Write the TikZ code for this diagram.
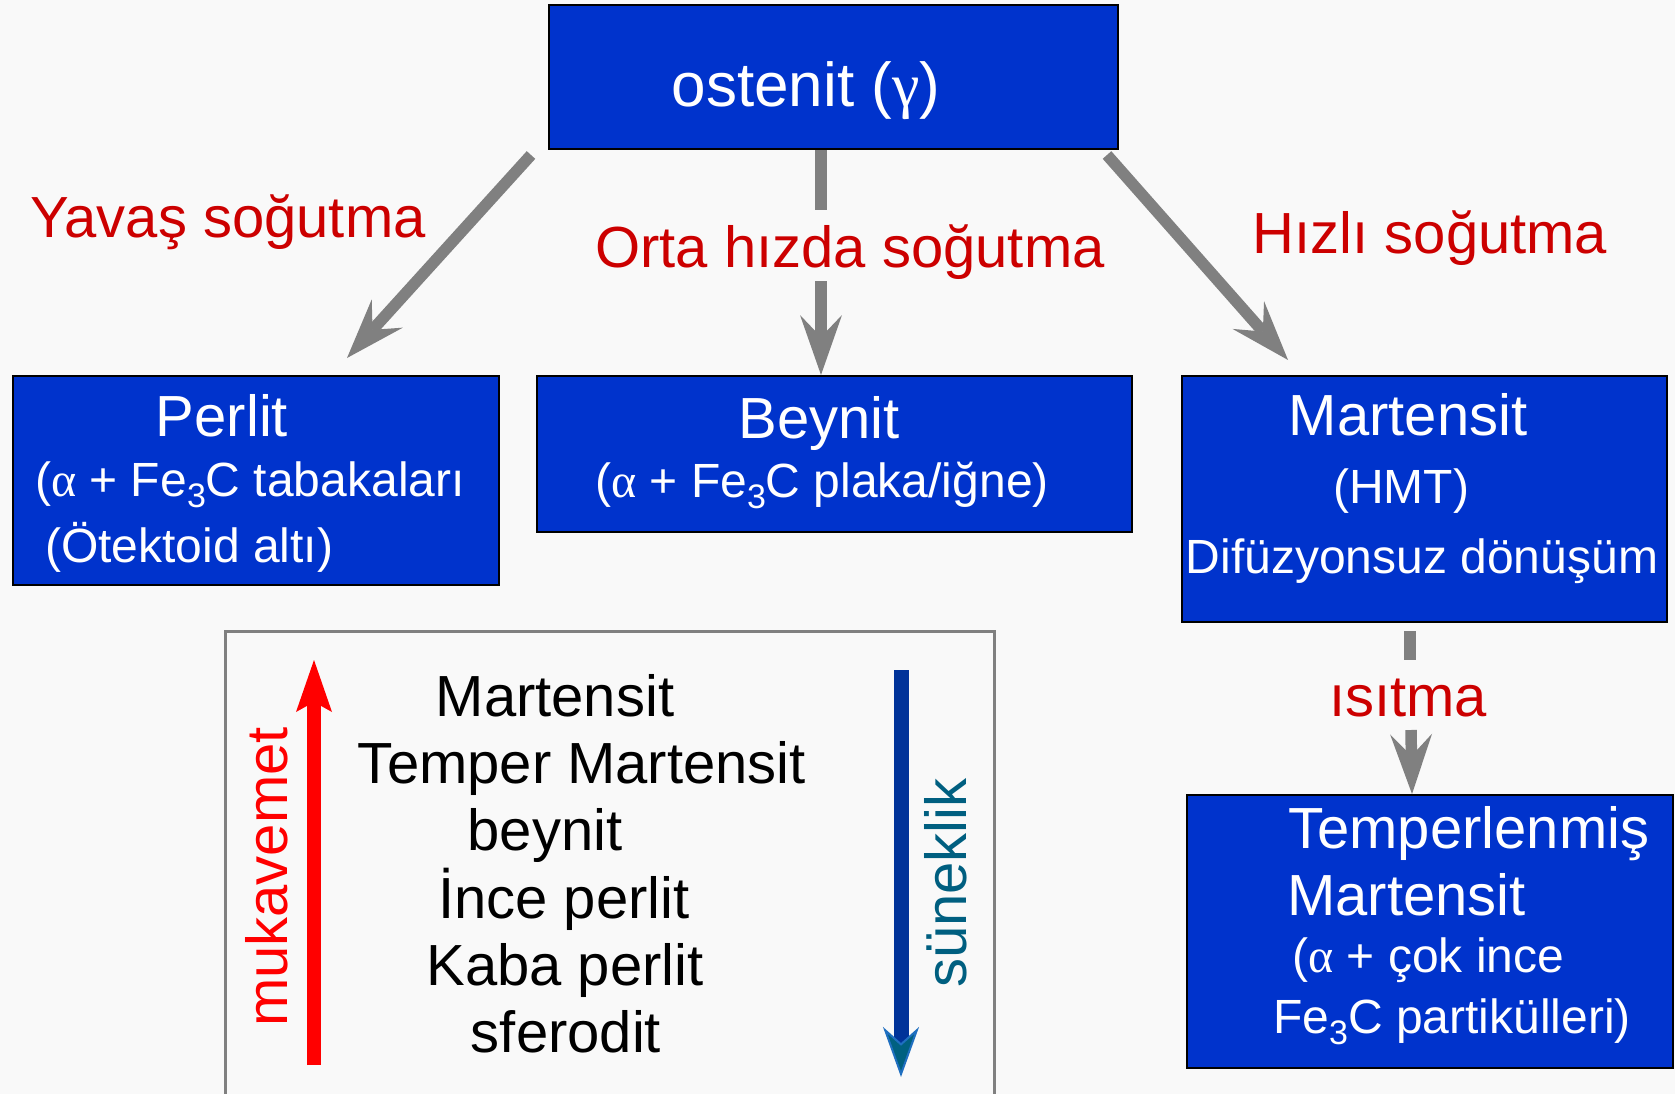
\documentclass[tikz,border=0pt]{standalone}
\usepackage{fontspec}
\setmainfont{Liberation Sans}
\newfontfamily\grk{Liberation Serif}
\usetikzlibrary{arrows.meta}
\definecolor{bgcol}{HTML}{F9F9F9}
\definecolor{boxblue}{HTML}{0033CC}
\definecolor{lblred}{HTML}{CC0000}
\definecolor{arrgray}{HTML}{808080}
\definecolor{strred}{HTML}{FF0000}
\definecolor{ductblue}{HTML}{003399}
\definecolor{tealtxt}{HTML}{005F80}
\definecolor{tealhead}{HTML}{006080}
\definecolor{headedge}{HTML}{1F6FC0}
\newcommand{\lowthree}{\raisebox{-0.45ex}{\fontsize{34}{34}\selectfont 3}}
\begin{document}
\begin{tikzpicture}[x=1pt,y=-1pt,
  box/.style={draw=black, line width=2pt, fill=boxblue, inner sep=0pt, anchor=north west},
  big/.style={font=\fontsize{58}{58}\selectfont, inner sep=0pt},
  mid/.style={font=\fontsize{48}{48}\selectfont, inner sep=0pt},
  wt/.style={text=white},
  redlbl/.style={big, text=lblred, anchor=base},
  blk/.style={big, text=black, anchor=base},
  grayline/.style={draw=arrgray, line width=11.5pt},
  grayarrow/.style={grayline, -{Stealth[length=60pt,width=42pt,inset=22pt,line width=0pt]}},
]
\useasboundingbox (0,0) rectangle (1675,1094);
\clip (0,0) rectangle (1675,1094);
\fill[bgcol] (0,0) rectangle (1675,1094);

% boxes
\node[box, minimum width=569pt, minimum height=144.5pt] (ostenit) at (548,4) {};
\node[box, minimum width=486pt, minimum height=209pt] (perlit) at (12,375) {};
\node[box, minimum width=595pt, minimum height=156pt] (beynit) at (536,375) {};
\node[box, minimum width=485pt, minimum height=246pt] (martensit) at (1181,375) {};
\node[box, minimum width=486pt, minimum height=273pt] (temper) at (1186,794) {};
\node[draw=arrgray, line width=2.5pt, minimum width=769pt, minimum height=480pt, anchor=north west, inner sep=0pt] (legend) at (224,630) {};

% box texts
\node[wt, inner sep=0pt, font=\fontsize{62}{62}\selectfont, anchor=base] (ostT) at (806,107) {ostenit ({\grk γ})};

\node[big, wt, anchor=base] (perT1) at (222,436) {Perlit};
\node[mid, wt, anchor=base west] (perT2) at (35,496) {({\grk α} + Fe\lowthree C tabakaları};
\node[mid, wt, anchor=base west] (perT3) at (45,562) {(Ötektoid altı)};

\node[big, wt, anchor=base] (beyT1) at (819,438) {Beynit};
\node[mid, wt, anchor=base] (beyT2) at (822,497) {({\grk α} + Fe\lowthree C plaka/iğne)};

\node[big, wt, anchor=base] (marT1) at (1408,435) {Martensit};
\node[mid, wt, anchor=base] (marT2) at (1401,503) {(HMT)};
\node[mid, wt, anchor=base] (marT3) at (1422,573) {Difüzyonsuz dönüşüm};

\node[big, wt, anchor=base west] (temT1) at (1288,848) {Temperlenmiş};
\node[big, wt, anchor=base west] (temT2) at (1287,915) {Martensit};
\node[mid, wt, anchor=base west] (temT3) at (1292,972) {({\grk α} + çok ince};
\node[mid, wt, anchor=base west] (temT4) at (1273,1033) {Fe\lowthree C partikülleri)};

% gray arrows
\draw[grayarrow] ([shift={(-17,4.5)}]ostenit.south west) -- ([shift={(91,-17)}]perlit.north);
\draw[grayline] ([xshift=-12.5]ostenit.south) -- ++(0,59.5);
\draw[grayarrow] ([shift={(-13.5,-94)}]beynit.north) -- ([xshift=-13.5]beynit.north);
\draw[grayarrow] ([shift={(-12,4.5)}]ostenit.south east) -- ([shift={(-136.5,-15)}]martensit.north);
\draw[grayline] ([shift={(-14.5,8)}]martensit.south) -- ++(0,29);
\draw[grayarrow] ([shift={(-19,-64)}]temper.north) -- ([xshift=-18]temper.north);

% red labels
\node[redlbl] (lblYav) at (228,237) {Yavaş soğutma};
\node[redlbl] (lblOrta) at (850,267) {Orta hızda soğutma};
\node[redlbl] (lblHiz) at (1430,253) {Hızlı soğutma};
\node[redlbl] (lblIsi) at (1408,716) {ısıtma};

% legend content
\node[blk] (l1) at (555,716) {Martensit};
\node[blk] (l2) at (582,783) {Temper Martensit};
\node[blk] (l3) at (545,850) {beynit};
\node[blk] (l4) at (564,918) {İnce perlit};
\node[blk] (l5) at (565,985) {Kaba perlit};
\node[blk] (l6) at (566,1052) {sferodit};

\coordinate (rbot) at (314,1065);
\coordinate (rtop) at (314,660);
\draw[draw=strred, line width=14pt, -{Stealth[length=52pt,width=36pt,inset=10pt,line width=0pt]}] (rbot) -- (rtop);
\node[big, text=strred, rotate=90, anchor=base] (muk) at (287,877) {mukavemet};

\coordinate (btop) at (901,670);
\coordinate (bbot) at (901,1077);
\draw[draw=ductblue, line width=15pt, -{Stealth[length=50pt,width=36pt,inset=16pt,line width=2pt,color=headedge,fill=tealhead]}] (btop) -- (bbot);
\node[big, text=tealtxt, rotate=90, anchor=base] (sun) at (966,883) {süneklik};
\end{tikzpicture}
\end{document}
